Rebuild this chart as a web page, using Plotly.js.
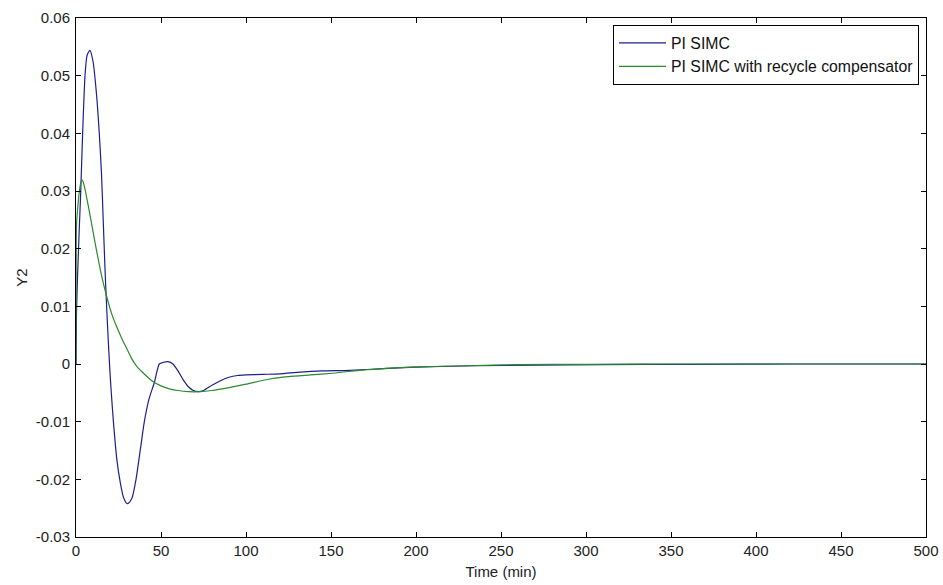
<!DOCTYPE html>
<html>
<head>
<meta charset="utf-8">
<script src="https://cdn.plot.ly/plotly-3.0.1.min.js"></script>
<style>
  html, body { margin: 0; padding: 0; background: #ffffff; }
  #chart { width: 943px; height: 585px; }
</style>
</head>
<body>
<div id="chart"></div>
<script>
// Closed-loop response of Y2 to a disturbance, two controller designs.

// PI SIMC
const tSimc = [0, 0.3, 1, 2, 2.8, 3.9, 5.3, 6.5, 8.2, 10, 12, 13.7, 15, 16, 17, 18, 19, 20, 21, 22,
  24, 26, 28, 30, 31, 33, 35.3, 38, 40.2, 43, 46, 49, 51.5, 54, 57, 60, 63, 66, 69, 72, 75,
  80, 85, 90, 95, 100, 110, 120, 132, 145, 161, 181, 204, 236, 270, 310, 360, 420, 500];
const ySimc = [0, 0.009, 0.016, 0.024, 0.030, 0.040, 0.050, 0.0535, 0.0544, 0.0525, 0.047, 0.040, 0.033, 0.025, 0.017, 0.010, 0.004, -0.0015, -0.006, -0.010,
  -0.0165, -0.0205, -0.0232, -0.0242, -0.0241, -0.0232, -0.020, -0.0145, -0.010, -0.006, -0.0033, 0.0000, 0.0003, 0.0004, 0.0000, -0.0012, -0.0027, -0.0039, -0.0046, -0.0048, -0.0046,
  -0.0037, -0.0029, -0.0023, -0.0020, -0.0019, -0.0018, -0.0017, -0.0014, -0.0012, -0.0011, -0.0008, -0.0005, -0.0003, -0.0002, -0.0001, -0.00005, 0, 0];

// PI SIMC with recycle compensator
const tComp = [0, 0.3, 1, 2, 3, 3.8, 5, 6, 8, 10, 12, 14, 16, 18.6, 21, 24, 27, 30, 33, 36, 40,
  45, 50, 55, 60, 66, 73, 80, 90, 100, 114, 125, 138, 151, 160, 171, 185, 202, 230, 260, 300, 350, 500];
const yComp = [0, 0.024, 0.027, 0.030, 0.0316, 0.0319, 0.0307, 0.0293, 0.0262, 0.0230, 0.0198, 0.0168, 0.0141, 0.0111, 0.0087, 0.0064, 0.0044, 0.0026, 0.0008, -0.0005, -0.0017,
  -0.0030, -0.0038, -0.0043, -0.0046, -0.0048, -0.0048, -0.0046, -0.0041, -0.0035, -0.0026, -0.0022, -0.0019, -0.0016, -0.0013, -0.0010, -0.0007, -0.0005, -0.0003, -0.0001, -0.00005, 0, 0];

const xTickVals = [0, 50, 100, 150, 200, 250, 300, 350, 400, 450, 500];
const yTickVals = [-0.03, -0.02, -0.01, 0, 0.01, 0.02, 0.03, 0.04, 0.05, 0.06];
const yTickText = ['-0.03', '-0.02', '-0.01', '0', '0.01', '0.02', '0.03', '0.04', '0.05', '0.06'];

const FONT = 'Liberation Sans, Arial, sans-serif';
const NARROW = 'Liberation Sans Narrow, Arial Narrow, sans-serif';

const traces = [
  { x: tSimc, y: ySimc, type: 'scatter', mode: 'lines', name: 'PI SIMC',
    line: { color: '#1f1f8c', width: 1.2, shape: 'spline', smoothing: 0.6 } },
  { x: tComp, y: yComp, type: 'scatter', mode: 'lines', name: 'PI SIMC with recycle compensator',
    line: { color: '#2b8a2b', width: 1.2, shape: 'spline', smoothing: 0.6 } }
];

const axisCommon = {
  showline: true, linecolor: '#000', linewidth: 1, mirror: 'allticks',
  ticks: 'inside', ticklen: 5, tickcolor: '#000', tickwidth: 1,
  showgrid: false, zeroline: false
};

const layout = {
  width: 943, height: 585,
  paper_bgcolor: '#ffffff', plot_bgcolor: '#ffffff',
  margin: { l: 76, r: 17, t: 18, b: 48 },
  showlegend: true,
  xaxis: Object.assign({}, axisCommon, {
    range: [0, 500], tickvals: xTickVals,
    tickfont: { family: NARROW, size: 15, color: '#222' },
    title: { text: 'Time (min)', standoff: 8,
      font: { family: NARROW, size: 15, color: '#222' } }
  }),
  yaxis: Object.assign({}, axisCommon, {
    range: [-0.03, 0.06], tickvals: yTickVals, ticktext: yTickText,
    tickfont: { family: FONT, size: 15, color: '#222' },
    ticklabelstandoff: 2,
    title: { text: 'Y2', standoff: 4,
      font: { family: FONT, size: 15, color: '#222' } }
  }),
  legend: {
    x: 0.9918, xanchor: 'right', y: 0.9865, yanchor: 'top',
    bgcolor: '#ffffff', bordercolor: '#000', borderwidth: 1,
    itemwidth: 47, tracegroupgap: 0,
    font: { family: FONT, size: 15.8, color: '#111' }
  }
};

Plotly.newPlot('chart', traces, layout, { displayModeBar: false, staticPlot: true });
</script>
</body>
</html>
